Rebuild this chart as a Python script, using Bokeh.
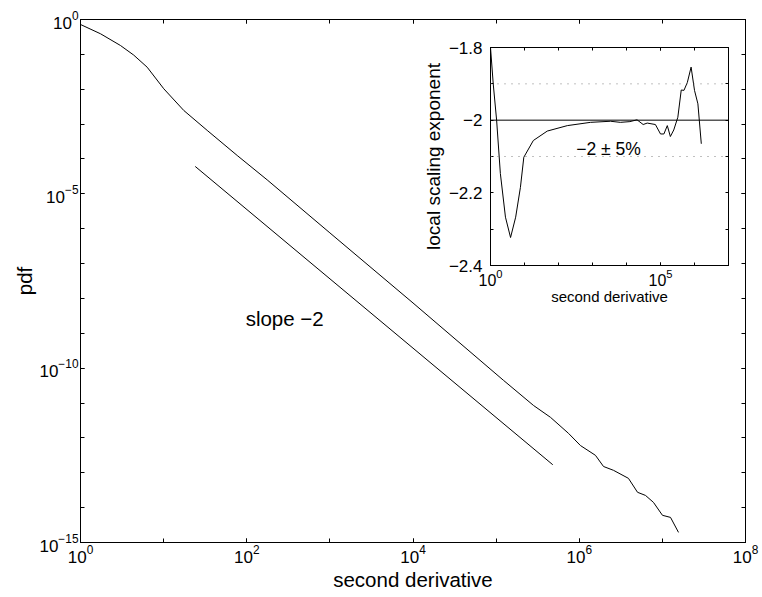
import numpy as np
from bokeh.plotting import figure
from bokeh.models import (LogAxis, LinearAxis, FixedTicker, Range1d, Span, Label,
                          CustomJSTickFormatter)
from bokeh.layouts import column
from bokeh.embed import file_html
from bokeh.resources import INLINE

FONT = "Liberation Sans"

# ---------------- data (main panel) ----------------
# log10 of second derivative and log10 of pdf
pdf_x_exp = [0.0, 0.241, 0.481, 0.64, 0.802, 1.002, 1.243, 1.524, 1.885, 2.246,
             3.0, 4.0, 5.089, 5.45, 5.654, 5.871, 6.015, 6.195, 6.292, 6.412,
             6.592, 6.701, 6.797, 6.893, 7.001, 7.098, 7.194]
pdf_y_exp = [-0.143, -0.41, -0.746, -1.02, -1.368, -1.987, -2.61, -3.18, -3.90, -4.60,
             -6.12, -8.13, -10.35, -11.07, -11.41, -11.87, -12.22, -12.50, -12.82, -12.93,
             -13.16, -13.56, -13.65, -13.85, -14.22, -14.28, -14.71]
slope_x = [24.0, 4.8e5]
slope_y = [6.1e-5, 1.7e-13]

main_x_labeled = [1.0, 1e2, 1e4, 1e6, 1e8]
main_x_ticks = [1.0, 1e1, 1e2, 1e3, 1e4, 1e5, 1e6, 1e7, 1e8]
main_y_labeled = [1e-15, 1e-10, 1e-5, 1.0]
main_y_ticks = [1e-15, 1e-14, 1e-13, 1e-12, 1e-11, 1e-10, 1e-9, 1e-8, 1e-7, 1e-6,
                1e-5, 1e-4, 1e-3, 1e-2, 1e-1, 1.0]

# ---------------- data (inset) ----------------
exp_x_exp = [0.0, 0.08, 0.18, 0.29, 0.44, 0.59, 0.74, 0.88, 0.98, 1.26, 1.67, 2.26,
             2.94, 3.53, 3.82, 4.1, 4.31, 4.49, 4.61, 4.85, 5.0, 5.10, 5.2, 5.29,
             5.39, 5.51, 5.61, 5.69, 5.79, 5.90, 6.0, 6.10, 6.20]
exp_val = [-1.80, -1.90, -2.00, -2.147, -2.267, -2.323, -2.267, -2.185, -2.102, -2.056,
           -2.030, -2.015, -2.006, -2.003, -2.006, -2.004, -1.999, -2.012, -2.008, -2.012,
           -2.038, -2.038, -2.015, -2.045, -2.027, -1.992, -1.917, -1.918, -1.896, -1.854,
           -1.918, -1.955, -2.065]
inset_x_labeled = [1.0, 1e5]
inset_x_ticks = [1.0, 1e1, 1e2, 1e3, 1e4, 1e5, 1e6, 1e7]
inset_y_labeled = [-2.4, -2.2, -2.0, -1.8]
inset_y_ticks = [-2.3, -2.1, -1.9]
inset_y_labels = {-2.4: "\u22122.4", -2.2: "\u22122.2", -2.0: "\u22122", -1.8: "\u22121.8"}
ref_level = -2.0
band = [-2.1, -1.9]

pdf_x = [10.0 ** e for e in pdf_x_exp]
pdf_y = [10.0 ** e for e in pdf_y_exp]
exp_x = [10.0 ** e for e in exp_x_exp]

blank = CustomJSTickFormatter(code="return ''")


def style_axis(ax, size, tick=4):
    ax.major_tick_in = tick
    ax.major_tick_out = 0
    ax.minor_tick_in = tick
    ax.minor_tick_out = 0
    ax.axis_line_color = "black"
    ax.major_tick_line_color = "black"
    ax.minor_tick_line_color = "black"
    ax.major_label_text_font = FONT
    ax.major_label_text_font_size = size
    ax.major_label_text_color = "black"
    ax.axis_label_text_font = FONT
    ax.axis_label_text_font_style = "normal"
    ax.axis_label_text_color = "black"


# ---------------- main figure ----------------
p = figure(width=760, height=596, x_axis_type="log", y_axis_type="log",
           x_range=Range1d(1, 1e8), y_range=Range1d(1e-15, 1),
           output_backend="svg", toolbar_location=None,
           min_border_left=80, min_border_right=15, min_border_top=19, min_border_bottom=54)
p.grid.visible = False
p.outline_line_color = "black"
p.background_fill_color = "white"
p.border_fill_color = "white"

p.line(pdf_x, pdf_y, line_color="black", line_width=1)
p.line(slope_x, slope_y, line_color="black", line_width=1)
p.add_layout(Label(x=97, y=2.7e-9, text="slope \u22122", text_font=FONT,
                   text_font_size="20.5px", text_color="black",
                   text_baseline="middle", text_align="left"))

xa = p.xaxis[0]
xa.ticker = FixedTicker(ticks=main_x_labeled, minor_ticks=main_x_ticks)
xa.axis_label = "second derivative"
style_axis(xa, "17px")
xa.axis_label_text_font_size = "20.5px"
xa.major_label_standoff = 2
xa.axis_label_standoff = 2

ya = p.yaxis[0]
ya.ticker = FixedTicker(ticks=main_y_labeled, minor_ticks=main_y_ticks)
ya.axis_label = "pdf"
style_axis(ya, "17px")
ya.axis_label_text_font_size = "20.5px"
ya.major_label_standoff = 2
ya.axis_label_standoff = 0

top = LogAxis(ticker=FixedTicker(ticks=main_x_labeled, minor_ticks=main_x_ticks),
              formatter=blank)
style_axis(top, "10px")
top.major_label_standoff = 0
p.add_layout(top, "above")
right = LogAxis(ticker=FixedTicker(ticks=main_y_labeled, minor_ticks=main_y_ticks),
                formatter=blank)
style_axis(right, "10px")
right.major_label_standoff = 0
p.add_layout(right, "right")

# ---------------- inset ----------------
ins = figure(width=333, height=280, x_axis_type="log",
             x_range=Range1d(1, 1e7), y_range=Range1d(-2.4, -1.8),
             output_backend="svg", toolbar_location=None,
             min_border_left=80, min_border_right=15, min_border_top=12, min_border_bottom=50)
ins.grid.visible = False
ins.outline_line_color = "black"
ins.background_fill_color = "white"
ins.border_fill_color = None

for b in band:
    ins.add_layout(Span(location=b, dimension="width", line_color="#808080",
                        line_dash="1 6", line_width=1))
ins.add_layout(Span(location=ref_level, dimension="width", line_color="black", line_width=1))
ins.line(exp_x, exp_val, line_color="black", line_width=1)
ins.add_layout(Label(x=2950, y=-2.078, text="\u22122 \u00b1 5%", text_font=FONT,
                     text_font_size="17.5px", text_color="black",
                     text_baseline="middle", text_align="center"))

ixa = ins.xaxis[0]
ixa.ticker = FixedTicker(ticks=inset_x_labeled, minor_ticks=inset_x_ticks)
ixa.axis_label = "second derivative"
style_axis(ixa, "16px", tick=3)
ixa.axis_label_text_font_size = "15px"
ixa.major_label_standoff = 3
ixa.axis_label_standoff = -1

iya = ins.yaxis[0]
iya.ticker = FixedTicker(ticks=inset_y_labeled, minor_ticks=inset_y_ticks)
iya.major_label_overrides = inset_y_labels
iya.axis_label = "local scaling exponent"
style_axis(iya, "17px", tick=3)
iya.axis_label_text_font_size = "19px"
iya.major_label_standoff = 8
iya.axis_label_standoff = 2

itop = LogAxis(ticker=FixedTicker(ticks=inset_x_labeled, minor_ticks=inset_x_ticks),
               formatter=blank)
style_axis(itop, "10px", tick=3)
itop.major_label_standoff = 0
ins.add_layout(itop, "above")
iright = LinearAxis(ticker=FixedTicker(ticks=inset_y_labeled, minor_ticks=inset_y_ticks),
                    formatter=blank)
style_axis(iright, "10px", tick=3)
iright.major_label_standoff = 0
ins.add_layout(iright, "right")

ins.styles = {"position": "absolute", "left": "410px", "top": "35px"}
page = column(p, ins)
page.styles = {"position": "relative"}

open("out.html", "w").write(file_html(page, INLINE))
